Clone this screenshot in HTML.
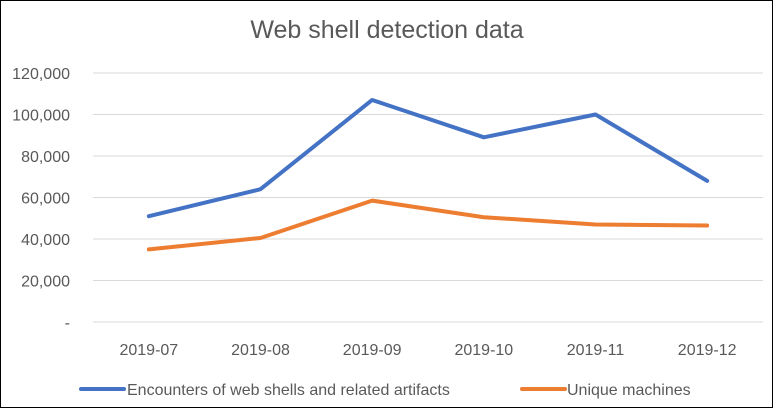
<!DOCTYPE html>
<html><head><meta charset="utf-8"><style>
html,body{margin:0;padding:0;background:#fff}
svg{display:block;font-family:"Liberation Sans",sans-serif}
</style></head><body>
<svg width="773" height="408">
<rect x="0.5" y="0.5" width="772" height="407" fill="#fff" stroke="#000"/>
<text x="387" y="38" text-anchor="middle" font-size="25" fill="#595959">Web shell detection data</text>
<g id="grid"></g><g id="series"></g>
<g>
<line x1="81" y1="389" x2="124" y2="389" stroke="#4472C4" stroke-width="4" stroke-linecap="round"/>
<text x="127" y="395" font-size="16" fill="#595959">Encounters of web shells and related artifacts</text>
<line x1="522" y1="389" x2="565" y2="389" stroke="#ED7D31" stroke-width="4" stroke-linecap="round"/>
<text x="567" y="395" font-size="16" fill="#595959">Unique machines</text>
</g>
</svg>
<script>
const categories=["2019-07","2019-08","2019-09","2019-10","2019-11","2019-12"];
const encounters=[51000,64000,107000,89000,100000,68000];
const uniqueMachines=[35000,40500,58500,50500,47000,46500];
const yTicks=[0,20000,40000,60000,80000,100000,120000];
const yTickLabels=["-","20,000","40,000","60,000","80,000","100,000","120,000"];
const NS="http://www.w3.org/2000/svg";
const L=93,R=763,T=73,B=322,yMax=120000;
const y=v=>B-(v/yMax)*(B-T);
const bw=(R-L)/categories.length;
const x=i=>L+bw*(i+0.5);
const grid=document.getElementById('grid');
function mk(tag,attrs,parent){const e=document.createElementNS(NS,tag);for(const k in attrs)e.setAttribute(k,attrs[k]);parent.appendChild(e);return e;}
yTicks.forEach((t,i)=>{
 const l=mk('line',{x1:L,x2:R,y1:y(t),y2:y(t),stroke:'#d9d9d9','stroke-width':1},grid);
 
 
 const tx=mk('text',{x:70,y:y(t)+6,'text-anchor':'end','font-size':16,fill:'#595959'},grid);
 tx.textContent=yTickLabels[i];
 
 
});
categories.forEach((c,i)=>{
 const tx=mk('text',{x:x(i),y:355,'text-anchor':'middle','font-size':16,fill:'#595959'},grid);
 tx.textContent=c;
 
 
});
const sg=document.getElementById('series');
function line(vals,color,name){
 const p=mk('polyline',{points:vals.map((v,i)=>x(i)+','+y(v)).join(' '),fill:'none',stroke:color,'stroke-width':4,'stroke-linecap':'round','stroke-linejoin':'round'},sg);
 
 
}
line(encounters,'#4472C4','encounters-line');
line(uniqueMachines,'#ED7D31','unique-machines-line');
</script>
</body></html>
